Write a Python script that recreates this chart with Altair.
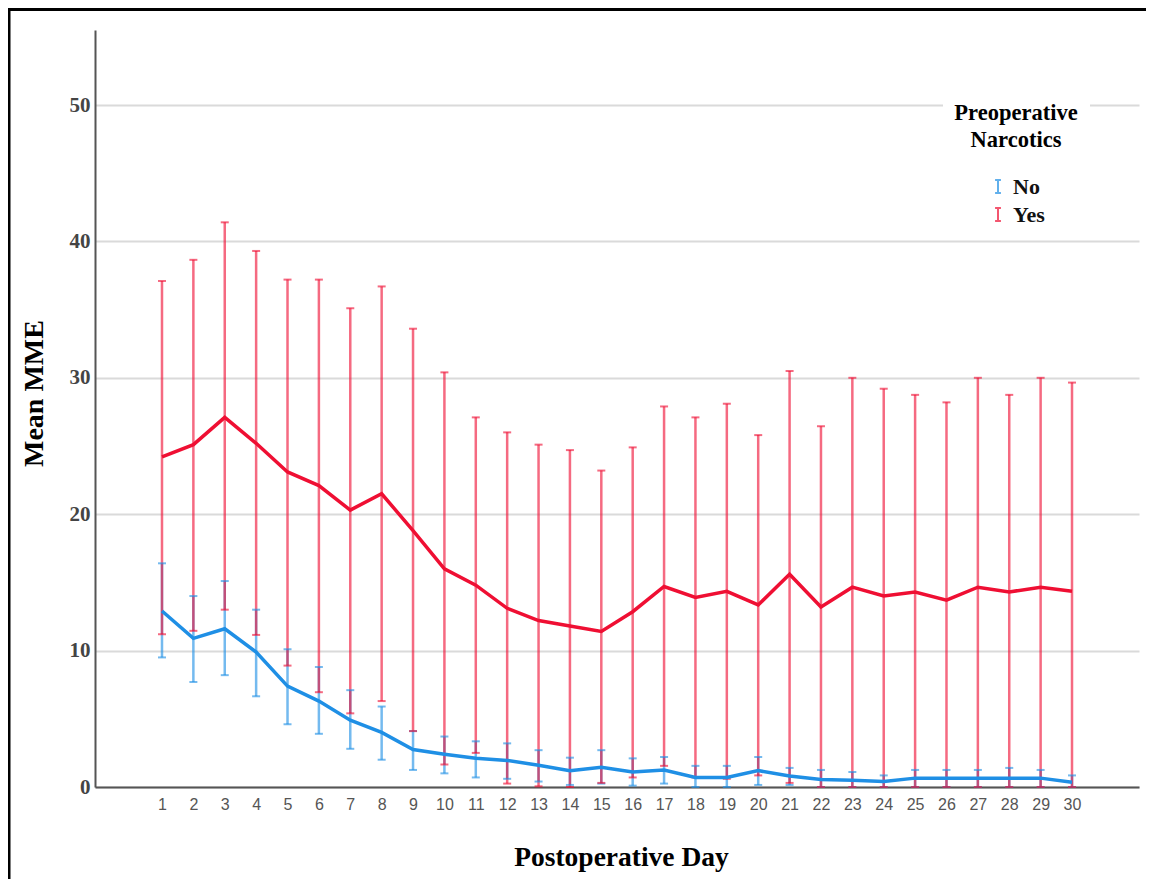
import altair as alt
import pandas as pd

days = list(range(1, 31))

no_mean = [12.9, 10.9, 11.6, 9.9, 7.4, 6.3, 4.9, 4.0, 2.75, 2.4, 2.1, 1.95, 1.6, 1.2, 1.45,
           1.1, 1.25, 0.7, 0.7, 1.2, 0.8, 0.55, 0.5, 0.4, 0.65, 0.65, 0.65, 0.65, 0.65, 0.35]
no_upper = [16.4, 14.0, 15.1, 13.0, 10.1, 8.8, 7.1, 5.9, 4.1, 3.7, 3.35, 3.2, 2.7, 2.15, 2.7,
            2.1, 2.2, 1.55, 1.55, 2.2, 1.4, 1.25, 1.1, 0.85, 1.25, 1.25, 1.25, 1.4, 1.25, 0.85]
no_lower = [9.5, 7.7, 8.2, 6.65, 4.6, 3.9, 2.8, 2.0, 1.25, 1.0, 0.7, 0.6, 0.4, 0.15, 0.25,
            0.1, 0.25, 0.0, 0.0, 0.15, 0.15, 0.0, 0.0, 0.0, 0.0, 0.0, 0.0, 0.0, 0.0, 0.0]

yes_mean = [24.2, 25.1, 27.1, 25.2, 23.1, 22.1, 20.3, 21.5, 18.8, 16.0, 14.8, 13.1, 12.2, 11.8, 11.4,
            12.85, 14.7, 13.9, 14.35, 13.35, 15.6, 13.2, 14.65, 14.0, 14.3, 13.7, 14.65, 14.3, 14.65, 14.35]
yes_upper = [37.1, 38.65, 41.4, 39.3, 37.2, 37.2, 35.1, 36.7, 33.6, 30.4, 27.1, 26.0, 25.1, 24.7, 23.2,
             24.9, 27.9, 27.1, 28.1, 25.8, 30.5, 26.45, 30.0, 29.2, 28.75, 28.2, 30.0, 28.75, 30.0, 29.65]
yes_lower = [11.2, 11.45, 13.0, 11.15, 8.9, 6.95, 5.4, 6.3, 4.1, 1.65, 2.5, 0.25, 0.05, 0.0, 0.3,
             0.7, 1.55, 0.7, 0.6, 0.85, 0.3, 0.0, 0.0, 0.0, 0.0, 0.0, 0.0, 0.0, 0.0, 0.0]

groups = ["No", "Yes"]
colors = ["#1F8FE5", "#EF0F33"]

rows = []
for i, d in enumerate(days):
    rows.append({"day": d, "group": "No", "mean": no_mean[i], "upper": no_upper[i], "lower": no_lower[i]})
for i, d in enumerate(days):
    rows.append({"day": d, "group": "Yes", "mean": yes_mean[i], "upper": yes_upper[i], "lower": yes_lower[i]})
df = pd.DataFrame(rows)

W, H = 1044, 757
PAD = {"left": 87, "top": 22, "right": 7, "bottom": 92}

xscale = alt.Scale(domain=[-1.135, 32.135], nice=False, zero=False)
yscale = alt.Scale(domain=[0, 55.5], nice=False)

x_enc = alt.X("day:Q", scale=xscale,
              axis=alt.Axis(values=days, title="Postoperative Day", grid=False, ticks=False,
                            labelFont="Liberation Sans", labelFontSize=16, labelColor="#555555",
                            labelPadding=9, titleFont="Liberation Serif", titleFontSize=27.5,
                            titleFontWeight="bold", titleColor="#000000", titleX=526, titleY=70,
                            titleBaseline="middle", titleAnchor="start", titleAlign="center",
                            domainColor="#555555", domainWidth=2))

color_enc = alt.Color("group:N", scale=alt.Scale(domain=groups, range=colors),
                      legend=alt.Legend(
                          title=["Preoperative", "Narcotics"],
                          orient="none", legendX=848, legendY=61,
                          titleFont="Liberation Serif", titleFontSize=22.5, titleFontWeight="bold",
                          titleColor="#000000", titleAlign="center", titleAnchor="middle",
                          titleLineHeight=27, titlePadding=24,
                          labelFont="Liberation Serif", labelFontSize=22, labelFontWeight="bold",
                          labelColor="#111111", labelOffset=4,
                          symbolType="M-0.45,-1L0.45,-1M0,-1L0,1M-0.45,1L0.45,1",
                          symbolSize=169, symbolStrokeWidth=2, symbolOpacity=0.7,
                          rowPadding=6, padding=11, fillColor="white", strokeColor="white"))

y_axis = alt.Axis(values=[0, 10, 20, 30, 40, 50], title="Mean MME", grid=True, ticks=False,
                  gridColor="#dadada", gridWidth=2,
                  labelFont="Liberation Serif", labelFontSize=21, labelFontWeight="bold",
                  labelColor="#444444", labelPadding=5,
                  titleFont="Liberation Serif", titleFontSize=28, titleFontWeight="bold",
                  titleColor="#000000", titleX=-61, titleY=363, titleBaseline="middle",
                  titleAlign="center", titleAngle=270,
                  domainColor="#555555", domainWidth=2)

base = alt.Chart(df)

bars = base.mark_rule(strokeWidth=2.5, opacity=0.62).encode(
    x=x_enc,
    y=alt.Y("lower:Q", scale=yscale, axis=y_axis),
    y2="upper:Q",
    color=color_enc,
)
cap_u = base.mark_tick(orient="horizontal", size=8, thickness=2, opacity=0.62).encode(
    x=x_enc, y=alt.Y("upper:Q", scale=yscale), color=color_enc)
cap_l = base.mark_tick(orient="horizontal", size=8, thickness=2, opacity=0.62).encode(
    x=x_enc, y=alt.Y("lower:Q", scale=yscale), color=color_enc)
lines = base.mark_line(strokeWidth=3.5).encode(
    x=x_enc, y=alt.Y("mean:Q", scale=yscale), color=color_enc, detail="group:N")

frame_df = pd.DataFrame({"k": [0]})
frame_v = alt.Chart(frame_df).mark_rule(color="black", strokeWidth=3).encode(
    x=alt.value(-86), y=alt.value(-22), y2=alt.value(H + PAD["bottom"]))
frame_h = alt.Chart(frame_df).mark_rule(color="black", strokeWidth=3).encode(
    x=alt.value(-87), x2=alt.value(W + PAD["right"]), y=alt.value(-20.5))

chart = alt.layer(bars, cap_u, cap_l, lines, frame_v, frame_h).properties(
    width=W, height=H,
    autosize=alt.AutoSizeParams(type="none"),
    padding=PAD,
    background="white",
).configure(font="Liberation Serif").configure_view(stroke=None)

chart.save("out.html", embed_options={"renderer": "svg", "actions": False})
